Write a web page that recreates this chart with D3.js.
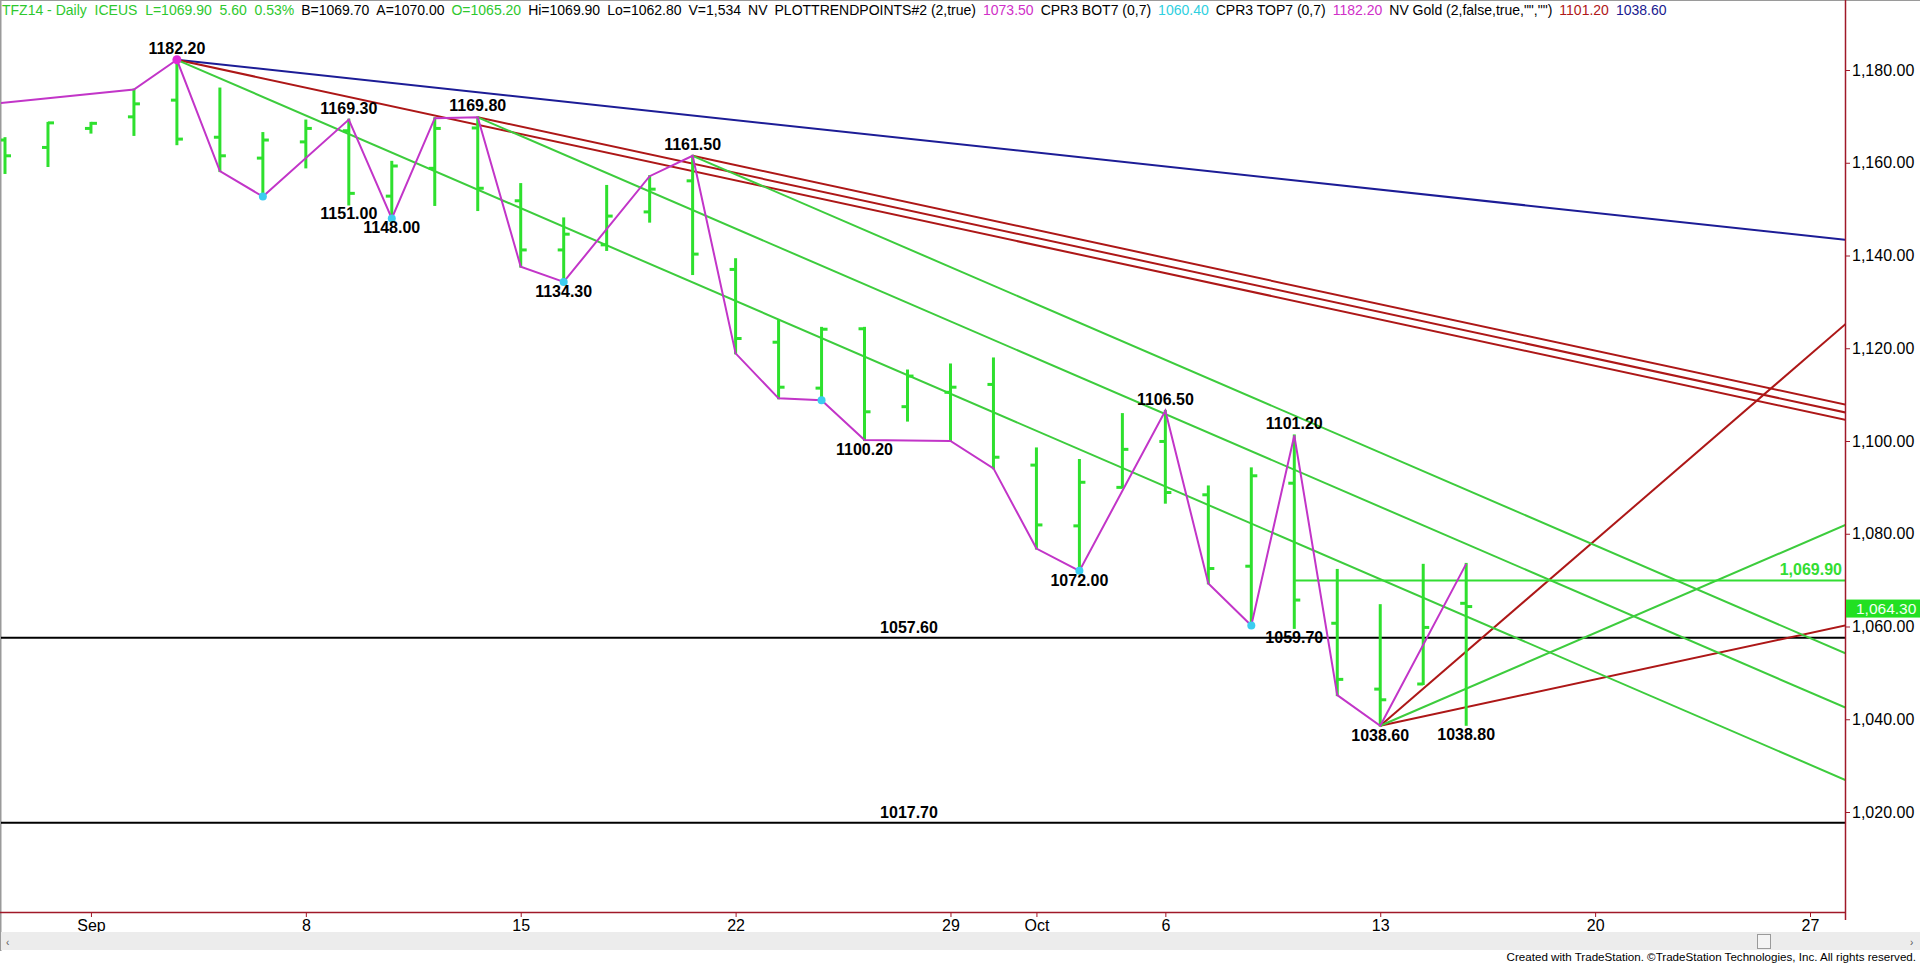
<!DOCTYPE html>
<html><head><meta charset="utf-8">
<script src="https://cdn.jsdelivr.net/npm/d3@7"></script>
<style>
html,body{margin:0;padding:0;background:#fff;overflow:hidden}
svg{display:block}
text{white-space:pre}
</style></head><body>
<svg id="c" width="1920" height="964"></svg>
<script>
// ---------- DATA ----------
const dates = ["Aug 28","Aug 29","Sep 1","Sep 2","Sep 3","Sep 4","Sep 5","Sep 8","Sep 9","Sep 10","Sep 11","Sep 12",
  "Sep 15","Sep 16","Sep 17","Sep 18","Sep 19","Sep 22","Sep 23","Sep 24","Sep 25","Sep 26","Sep 29","Sep 30",
  "Oct 1","Oct 2","Oct 3","Oct 6","Oct 7","Oct 8","Oct 9","Oct 10","Oct 13","Oct 14","Oct 15"];
const opens  = [1164.9,1163.3,1167.4,1169.9,1173.5,1165.5,1161.0,1164.5,1166.9,1152.8,1158.8,1167.5,
  1151.8,1141.2,1142.3,1149.4,1156.1,1137.0,1121.3,1111.4,1124.2,1107.4,1110.5,1112.2,
  1094.8,1081.7,1090.0,1099.9,1088.4,1073.0,1090.9,1060.7,1046.5,1047.6,1065.0];
const highs  = [1165.3,1168.6,1168.6,1175.8,1182.2,1176.0,1166.4,1169.1,1169.3,1160.2,1169.6,1169.8,
  1155.4,1148.0,1155.0,1157.1,1161.5,1139.2,1126.1,1124.4,1124.4,1115.2,1116.5,1117.8,
  1098.4,1095.9,1105.8,1106.5,1090.2,1094.1,1101.2,1072.2,1064.6,1073.3,1073.5];
const lows   = [1157.8,1159.3,1166.5,1166.0,1164.0,1158.2,1152.7,1159.0,1151.0,1148.0,1150.9,1149.8,
  1137.6,1134.3,1141.2,1147.3,1136.0,1118.9,1109.2,1108.8,1100.2,1104.4,1100.0,1094.1,
  1076.8,1072.0,1090.0,1086.7,1069.3,1060.2,1059.7,1045.2,1038.6,1047.6,1038.8];
const closes = [1161.5,1168.6,1168.5,1172.7,1165.1,1161.5,1164.9,1167.4,1153.4,1159.3,1167.4,1154.5,
  1141.2,1144.6,1148.5,1154.3,1140.3,1122.1,1111.6,1124.1,1106.3,1114.0,1111.6,1096.5,
  1081.9,1091.1,1098.2,1088.9,1072.5,1092.5,1065.7,1048.6,1044.2,1059.8,1064.3];

const xTickIndex  = [2,7,12,17,22,24,27,32,37,42];
const xTickLabels = ["Sep","8","15","22","29","Oct","6","13","20","27"];
const yTicks = [1020,1040,1060,1080,1100,1120,1140,1160,1180];

// zigzag (PLOTTRENDPOINTS) vertices
const zigIndex = [-1,3,4,5,6,8,9,10,11,12,13,15,16,17,18,19,20,22,23,24,25,27,28,29,30,31,32,34];
const zigPrice = [1172.0,1175.8,1182.2,1158.2,1152.7,1169.3,1148.0,1169.6,1169.8,1137.6,1134.3,1157.1,1161.5,
  1118.9,1109.2,1108.8,1100.2,1100.0,1094.1,1076.8,1072.0,1106.5,1069.3,1060.2,1101.2,1045.2,1038.6,1073.5];
const lowDotIndex  = [6,9,13,19,25,29];
const highDotIndex = [4];

// pivot labels
const pivotIndex = [4,8,8,9,11,13,16,20,25,27,30,30,32,34];
const pivotValue = [1182.20,1169.30,1151.00,1148.00,1169.80,1134.30,1161.50,1100.20,1072.00,1106.50,1101.20,1059.70,1038.60,1038.80];
const pivotAbove = [true,true,false,false,true,false,true,false,false,true,true,false,false,false];

// Gann-style trend lines: anchor bar, anchor price, slope (points per bar)
const greenLineIndex = [4,11,16,32];
const greenLinePrice = [1182.2,1169.8,1161.5,1038.6];
const greenLineSlope = [-4,-4,-4,4];
const redLineIndex = [4,11,16,32,32];
const redLinePrice = [1182.2,1169.8,1161.5,1038.6,1038.6];
const redLineSlope = [-2,-2,-2,8,2];
const blueLineIndex = [4];
const blueLinePrice = [1182.2];
const blueLineSlope = [-1];

const supportLevels = [1057.60,1017.70];
const lastHighLevel = 1069.90, lastHighStart = 30;
const lastPrice = 1064.30;

const headerParts = [
  ["TFZ14 - Daily  ICEUS  L=1069.90  5.60  0.53%","#2ec82e"],
  ["B=1069.70","#000"],["A=1070.00","#000"],["O=1065.20","#2ec82e"],
  ["Hi=1069.90","#000"],["Lo=1062.80","#000"],["V=1,534","#000"],["NV","#000"],
  ["PLOTTRENDPOINTS#2 (2,true)","#000"],["1073.50","#d030c8"],
  ["CPR3 BOT7 (0,7)","#000"],["1060.40","#30d0e0"],
  ["CPR3 TOP7 (0,7)","#000"],["1182.20","#d030c8"],
  ["NV Gold (2,false,true,\"\",\"\")","#000"],["1101.20","#b01818"],["1038.60","#1a1a90"]
];

// ---------- CHART ----------
const svg = d3.select("#c");
const W = 1920, H = 964;
const plotRight = 1845, plotBottom = 912;
const x = d3.scaleLinear().domain([0,42]).range([5,1810]);
const y = d3.scaleLinear().domain([1020,1180]).range([812,70]);
const rightIndex = x.invert(plotRight);
const SANS = "'Liberation Sans',Arial,sans-serif";
const NARROW = "'Liberation Sans Narrow','Arial Narrow','Liberation Sans',sans-serif";

svg.append("rect").attr("width",W).attr("height",H).attr("fill","#fff");
svg.append("defs").append("clipPath").attr("id","plot")
  .append("rect").attr("x",1).attr("y",1).attr("width",plotRight-1).attr("height",plotBottom-1);

// frame
svg.append("line").attr("x1",0.5).attr("x2",0.5).attr("y1",0).attr("y2",951).attr("stroke","#9a9a9a").attr("stroke-width",2);
svg.append("line").attr("x1",0).attr("x2",W).attr("y1",0.5).attr("y2",0.5).attr("stroke","#9a9a9a").attr("stroke-width",1);

const g = svg.append("g").attr("clip-path","url(#plot)");

// support lines
g.selectAll(".sup").data(supportLevels).join("line")
  .attr("x1",0).attr("x2",plotRight).attr("y1",d=>y(d)).attr("y2",d=>y(d))
  .attr("stroke","#000").attr("stroke-width",2);

function drawRays(idx, price, slope, color, w){
  const data = idx.map((d,i)=>({i0:d,p0:price[i],s:slope[i]}));
  g.selectAll(null).data(data).join("line")
    .attr("x1",d=>x(d.i0)).attr("y1",d=>y(d.p0))
    .attr("x2",x(rightIndex+1)).attr("y2",d=>y(d.p0 + d.s*(rightIndex+1-d.i0)))
    .attr("stroke",color).attr("stroke-width",w);
}
drawRays(blueLineIndex,blueLinePrice,blueLineSlope,"#1c1c96",2);
drawRays(redLineIndex,redLinePrice,redLineSlope,"#ad1717",2);
drawRays(greenLineIndex,greenLinePrice,greenLineSlope,"#3dcc3d",2);

// horizontal last-high line
g.append("line").attr("x1",x(lastHighStart)).attr("x2",plotRight)
  .attr("y1",y(lastHighLevel)).attr("y2",y(lastHighLevel))
  .attr("stroke","#33dd33").attr("stroke-width",2);

// OHLC bars
const barColor = "#2ee02e";
const bars = g.selectAll(".bar").data(dates.map((d,i)=>i)).join("g");
bars.append("line").attr("x1",i=>x(i)).attr("x2",i=>x(i))
  .attr("y1",i=>y(highs[i])-1).attr("y2",i=>y(lows[i])+1)
  .attr("stroke",barColor).attr("stroke-width",3);
bars.append("line").attr("x1",i=>x(i)-6).attr("x2",i=>x(i))
  .attr("y1",i=>y(opens[i])).attr("y2",i=>y(opens[i]))
  .attr("stroke",barColor).attr("stroke-width",3);
bars.append("line").attr("x1",i=>x(i)).attr("x2",i=>x(i)+6)
  .attr("y1",i=>y(closes[i])).attr("y2",i=>y(closes[i]))
  .attr("stroke",barColor).attr("stroke-width",3);

// zigzag
g.append("path").datum(zigIndex.map((d,i)=>[d,zigPrice[i]]))
  .attr("d",d3.line().x(d=>x(d[0])).y(d=>y(d[1])))
  .attr("fill","none").attr("stroke","#c235c8").attr("stroke-width",2);

g.selectAll(".ld").data(lowDotIndex).join("circle")
  .attr("cx",i=>x(i)).attr("cy",i=>y(lows[i])).attr("r",4).attr("fill","#3ccdf0");
g.selectAll(".hd").data(highDotIndex).join("circle")
  .attr("cx",i=>x(i)).attr("cy",i=>y(highs[i])).attr("r",4.5).attr("fill","#e02ad8");

// pivot labels
svg.selectAll(".pl").data(pivotIndex.map((d,i)=>i)).join("text")
  .attr("x",i=>x(pivotIndex[i]))
  .attr("y",i=>pivotAbove[i] ? y(pivotValue[i])-6 : y(pivotValue[i])+15)
  .attr("text-anchor","middle")
  .attr("font-family",SANS).attr("font-weight","bold").attr("font-size",16)
  .attr("fill","#000").text(i=>pivotValue[i].toFixed(2));

svg.selectAll(".sl").data(supportLevels).join("text")
  .attr("x",909).attr("y",d=>y(d)-5).attr("text-anchor","middle")
  .attr("font-family",SANS).attr("font-weight","bold").attr("font-size",16)
  .attr("fill","#000").text(d=>d.toFixed(2));

// last high label
svg.append("text").attr("x",plotRight-3).attr("y",y(lastHighLevel)-6).attr("text-anchor","end")
  .attr("font-family",SANS).attr("font-weight","bold").attr("font-size",16)
  .attr("fill","#33dd33").text(d3.format(",.2f")(lastHighLevel));

// Y axis
const yAxis = d3.axisRight(y).tickValues(yTicks).tickFormat(d3.format(",.2f")).tickSize(5).tickPadding(2);
const ya = svg.append("g").attr("transform",`translate(${plotRight},0)`).call(yAxis);
ya.select(".domain").remove();
ya.selectAll(".tick line").attr("stroke","#a01828");
ya.selectAll("text").attr("font-family",SANS).attr("font-size",16).attr("fill","#000");
svg.append("line").attr("x1",plotRight+0.5).attr("x2",plotRight+0.5).attr("y1",0).attr("y2",plotBottom+8)
  .attr("stroke","#a01828").attr("stroke-width",1.5);

// last price box
svg.append("rect").attr("x",plotRight+1).attr("y",y(lastPrice)-7).attr("width",W-plotRight-1).attr("height",18).attr("fill","#22e022");
svg.append("text").attr("x",plotRight+11).attr("y",y(lastPrice)+7.5)
  .attr("font-family",SANS).attr("font-size",15.5).attr("fill","#f4fff4")
  .text(d3.format(",.2f")(lastPrice));

// X axis
const xAxis = d3.axisBottom(x).tickValues(xTickIndex).tickFormat((d,i)=>xTickLabels[i]).tickSize(5).tickPadding(3);
const xa = svg.append("g").attr("transform",`translate(0,${plotBottom})`).call(xAxis);
xa.select(".domain").remove();
xa.selectAll(".tick line").attr("stroke","#a01828");
xa.selectAll("text").attr("font-family",NARROW)
  .attr("font-stretch","condensed").attr("font-size",16).attr("fill","#000");
svg.append("line").attr("x1",0).attr("x2",plotRight).attr("y1",plotBottom+0.5).attr("y2",plotBottom+0.5)
  .attr("stroke","#a01828").attr("stroke-width",1.5);

// scrollbar
svg.append("rect").attr("x",1).attr("y",932).attr("width",W-1).attr("height",18).attr("fill","#ececec");
svg.append("rect").attr("x",1757.5).attr("y",934.5).attr("width",13).attr("height",14).attr("fill","#f4f4f4").attr("stroke","#9a9a9a");
svg.append("text").attr("x",6).attr("y",946).attr("font-family",SANS).attr("font-size",10).attr("fill","#555").text("\u2039");
svg.append("text").attr("x",1910).attr("y",946).attr("font-family",SANS).attr("font-size",10).attr("fill","#555").text("\u203A");

// credit
svg.append("text").attr("x",1916).attr("y",961).attr("text-anchor","end")
  .attr("font-family",NARROW).attr("font-stretch","condensed")
  .attr("font-size",11.6).attr("fill","#000")
  .text("Created with TradeStation. \u00A9TradeStation Technologies, Inc. All rights reserved.");

// header (flowing)
let hx = 2;
headerParts.forEach(p=>{
  const t = svg.append("text").attr("x",hx).attr("y",15)
    .attr("font-family",SANS).attr("font-size",14).attr("fill",p[1]).text(p[0]);
  hx += t.node().getComputedTextLength() + 7;
});
</script>
</body></html>
